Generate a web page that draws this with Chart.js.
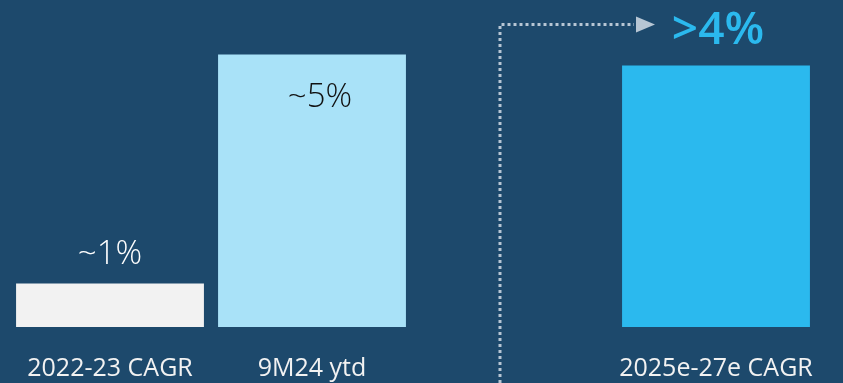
<!DOCTYPE html>
<html>
<head>
<meta charset="utf-8">
<script src="https://cdn.jsdelivr.net/npm/chart.js@4.4.1/dist/chart.umd.min.js"></script>
<style>
  html, body { margin: 0; padding: 0; background: #1d496c; }
  #wrap { width: 843px; height: 383px; position: relative; }
</style>
</head>
<body>
<div id="wrap"><canvas id="c" width="843" height="383"></canvas></div>
<script>
const categories = ["2022-23 CAGR", "9M24 ytd", "", "2025e-27e CAGR"];
const values = [0.8, 5.0, null, 4.8];
const valueLabels = ["~1%", "~5%", "", ">4%"];
const barColors = ["#f2f2f2", "#a9e2f8", "rgba(0,0,0,0)", "#2bb9ee"];

const BG = "#1d496c";
const FONT = "'Open Sans', 'Noto Sans', sans-serif";

const decor = {
  id: "decor",
  beforeDraw(chart) {
    const ctx = chart.ctx;
    ctx.save();
    ctx.fillStyle = BG;
    ctx.fillRect(0, 0, chart.width, chart.height);
    ctx.restore();
  },
  afterDatasetsDraw(chart) {
    const ctx = chart.ctx;
    const xs = chart.scales.x;
    const area = chart.chartArea;
    const meta = chart.getDatasetMeta(0);
    ctx.save();
    // category labels
    ctx.textAlign = "center";
    ctx.textBaseline = "alphabetic";
    ctx.fillStyle = "#f2f2f2";
    ctx.font = "25px " + FONT;
    categories.forEach((c, i) => {
      if (c) ctx.fillText(c, xs.getPixelForValue(i), area.bottom + 49);
    });
    // value labels
    meta.data.forEach((bar, i) => {
      const t = valueLabels[i];
      if (!t) return;
      if (i === 0) {
        ctx.font = "300 33px " + FONT;
        ctx.fillStyle = "#ffffff";
        ctx.fillText(t, bar.x, bar.y - 19);
      } else if (i === 1) {
        ctx.font = "300 33px " + FONT;
        ctx.fillStyle = "#111111";
        ctx.fillText(t, bar.x + 8, bar.y + 52);
      } else if (i === 3) {
        ctx.font = "600 46px " + FONT;
        ctx.fillStyle = "#2bb9ee";
        ctx.fillText(t, bar.x + 2, bar.y - 21);
      }
    });
    // dotted arrow
    const ax = xs.getPixelForValue(2) - 14;
    const ay = 24.5;
    ctx.strokeStyle = "#b7c6d4";
    ctx.lineWidth = 3;
    ctx.setLineDash([3, 3]);
    ctx.beginPath();
    ctx.moveTo(ax, chart.height);
    ctx.lineTo(ax, ay);
    ctx.lineTo(634, ay);
    ctx.stroke();
    ctx.setLineDash([]);
    ctx.fillStyle = "#b7c6d4";
    ctx.beginPath();
    ctx.moveTo(636, ay - 8);
    ctx.lineTo(655, ay);
    ctx.lineTo(636, ay + 8);
    ctx.closePath();
    ctx.fill();
    ctx.restore();
  }
};

new Chart(document.getElementById("c"), {
  type: "bar",
  data: {
    labels: categories,
    datasets: [{
      data: values,
      backgroundColor: barColors,
      borderWidth: 0,
      categoryPercentage: 1.0,
      barPercentage: 0.93
    }]
  },
  options: {
    responsive: false,
    animation: false,
    layout: { padding: { left: 9, right: 26, top: 0, bottom: 56 } },
    plugins: { legend: { display: false }, tooltip: { enabled: false } },
    scales: {
      x: { display: false },
      y: { display: false, min: 0, max: 6 }
    }
  },
  plugins: [decor]
});
</script>
</body>
</html>
